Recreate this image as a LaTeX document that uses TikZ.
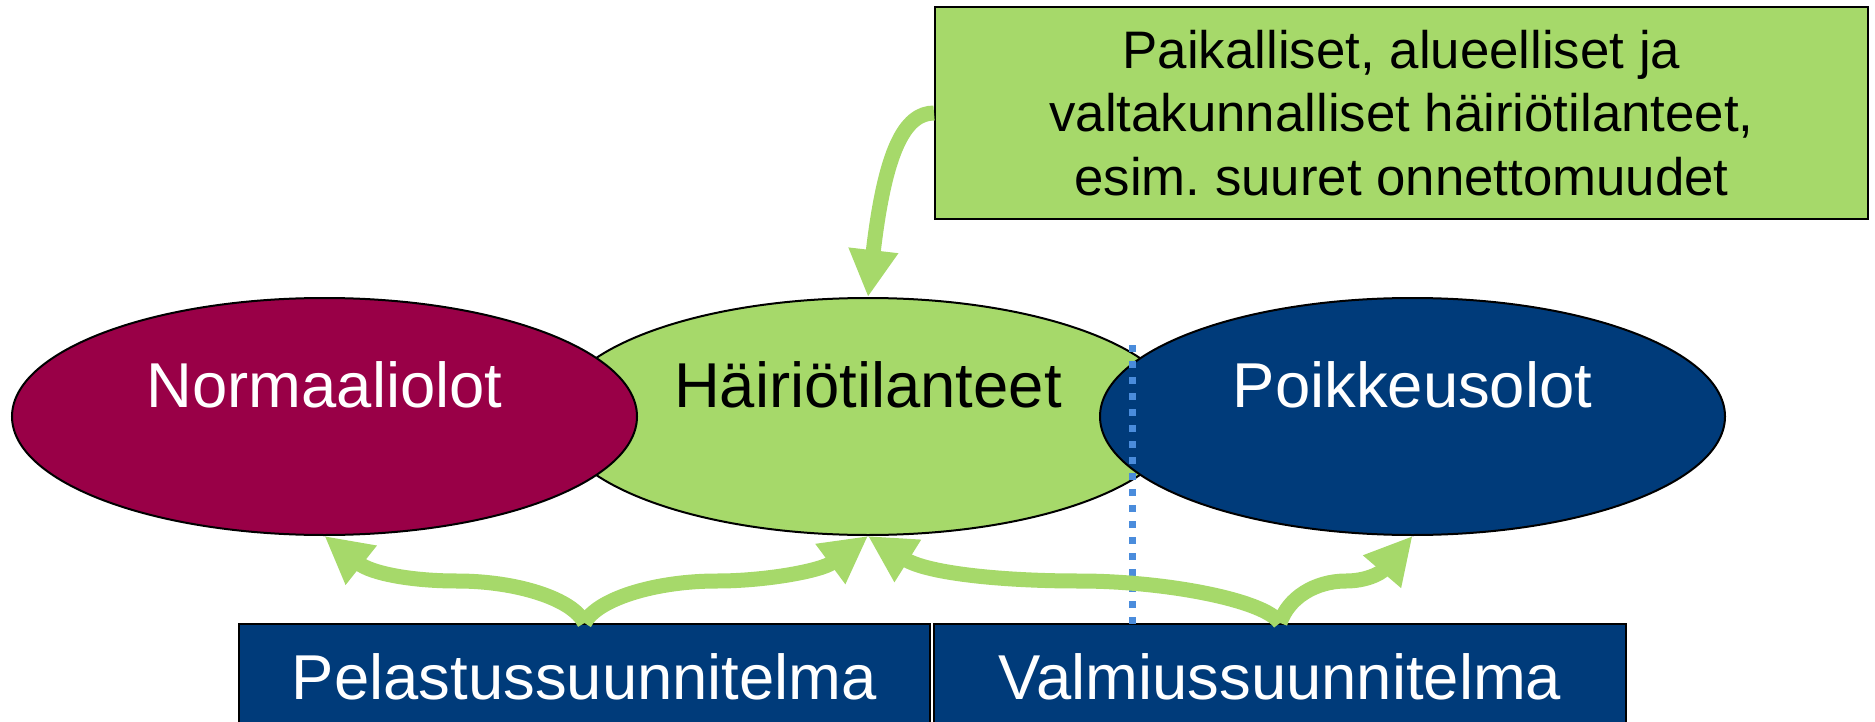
\documentclass[tikz,border=0pt]{standalone}
\usepackage{fontspec}
\setmainfont{Liberation Sans}
\usetikzlibrary{shapes.geometric,arrows.meta}
\definecolor{lgreen}{RGB}{166,217,106}
\definecolor{dred}{RGB}{153,0,71}
\definecolor{navy}{RGB}{0,59,122}
\definecolor{dotblue}{RGB}{74,140,220}
\frenchspacing
\begin{document}
\begin{tikzpicture}[x=0.5pt,y=-0.5pt,
  oval/.style={ellipse, draw=black, line width=1pt, minimum width=312.5pt, minimum height=118.5pt, inner sep=0pt},
  bigtext/.style={font=\fontsize{31.7}{38}\selectfont, anchor=base, inner sep=0pt},
  planbox/.style={draw=black, line width=1pt, fill=navy, minimum height=68pt, inner sep=0pt},
  flow/.style={draw=lgreen, line width=7.5pt, -{Triangle[length=23.5pt,width=23.5pt]}},
  sep/.style={draw=dotblue, line width=3.5pt, dash pattern=on 3.5pt off 4.5pt}
]
\useasboundingbox (0,0) rectangle (1875,722);
\clip (0,0) rectangle (1875,722);

% ellipses
\node[oval, fill=lgreen] (hai) at (868,416.5) {};
\node[oval, fill=dred] (nor) at (324.5,416.5) {};
\node[oval, fill=navy] (poi) at (1412.5,416.5) {};
\node[bigtext, text=white] (tnor) at (324.5,407) {Normaaliolot};
\node[bigtext, text=black] (thai) at (868,407) {Häiriötilanteet};
\node[bigtext, text=white] (tpoi) at (1412.5,407) {Poikkeusolot};

% top box
\node[draw=black, line width=1pt, fill=lgreen, minimum width=466.5pt, minimum height=106pt,
      inner sep=0pt, align=center, font=\fontsize{26.4}{31.75}\selectfont] (tb) at (1401.5,113)
  {Paikalliset, alueelliset ja\\valtakunnalliset häiriötilanteet,\\esim. suuret onnettomuudet};

% bottom boxes
\node[planbox, minimum width=345.5pt] (pel) at (584.5,692) {};
\node[planbox, minimum width=346pt] (val) at (1280,692) {};
\node[bigtext, text=white] (tpel) at (584.5,699) {Pelastussuunnitelma};
\node[bigtext, text=white] (tval) at (1280,699) {Valmiussuunnitelma};

% dotted separator
\coordinate (s1) at (1132,345);
\coordinate (s2) at (1132,624);
\draw[sep] (s1) -- (s2);

% arrows
\draw[flow] (tb.west) .. controls (905,113) and (885,150) .. (hai.north);

\draw[flow] (pel.north) .. controls (573,599) and (517,581) .. (457,581)
   .. controls (410,581) and (371,573) .. (nor.south);
\draw[flow] (pel.north) .. controls (597,599) and (655,581) .. (717,581)
   .. controls (765,581) and (821,571) .. (hai.south);

\draw[flow] (val.north) .. controls (1265,600) and (1165,581) .. (1079,581)
   .. controls (1000,581) and (927,573) .. (hai.south);
\draw[flow] (val.north) .. controls (1288,598) and (1315,581) .. (1346,581)
   .. controls (1365,581) and (1380,574) .. (poi.south);
\end{tikzpicture}
\end{document}
